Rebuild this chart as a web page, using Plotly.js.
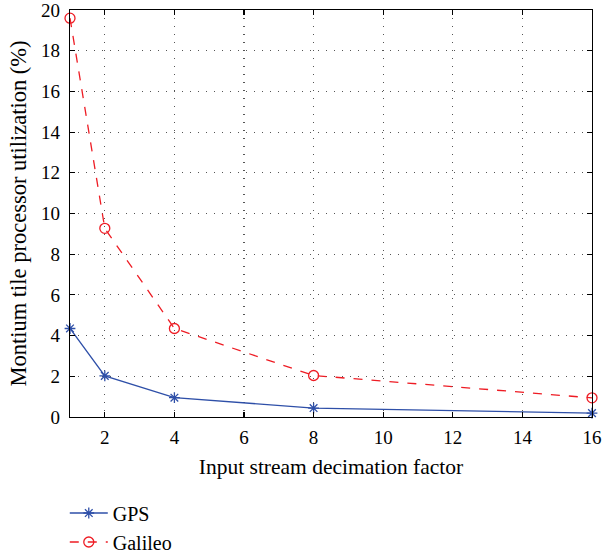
<!DOCTYPE html>
<html>
<head>
<meta charset="utf-8">
<script src="https://cdn.plot.ly/plotly-3.0.1.min.js"></script>
<style>body{margin:0;padding:0;background:#fff}</style>
</head>
<body>
<div id="chart" style="width:602px;height:554px"></div>
<script>
const decimation = [1, 2, 4, 8, 16];
const gps = [4.35, 2.02, 0.95, 0.44, 0.19];
const galileo = [19.6, 9.27, 4.35, 2.04, 0.94];
const xTicks = [2, 4, 6, 8, 10, 12, 14, 16];
const yTicks = [0, 2, 4, 6, 8, 10, 12, 14, 16, 18, 20];

const fam = "Liberation Serif, DejaVu Serif, serif";
const tickFont = {family: fam, size: 19, color: "#000"};

const traces = [
  {x: decimation, y: gps, name: "GPS", mode: "lines+markers",
   line: {color: "#2e4fa8", width: 1.3},
   marker: {symbol: "asterisk-open", size: 9, color: "#2e4fa8", line: {color: "#2e4fa8", width: 1.3}},
   cliponaxis: false},
  {x: decimation, y: galileo, name: "Galileo", mode: "lines+markers",
   line: {color: "#ee1c24", width: 1.3, dash: "dash"},
   marker: {symbol: "circle-open", size: 10, color: "#ee1c24", line: {color: "#ee1c24", width: 1.3}},
   cliponaxis: false}
];

const axisCommon = {
  showline: true, mirror: "ticks", linecolor: "#000", linewidth: 1.3,
  ticks: "inside", ticklen: 5, tickcolor: "#000", tickwidth: 1.2,
  showgrid: true, gridcolor: "#555", griddash: "1px,7px", gridwidth: 1.2,
  zeroline: false, tickfont: tickFont, ticklabeloverflow: "allow", automargin: true
};

const layout = {
  width: 602, height: 554,
  margin: {l: 70, r: 10, t: 10, b: 137, autoexpand: false},
  paper_bgcolor: "#fff", plot_bgcolor: "#fff",
  font: tickFont,
  showlegend: true,
  legend: {x: -0.01, y: -0.188, xanchor: "left", yanchor: "top",
           orientation: "v", font: {family: fam, size: 20, color: "#000"},
           bgcolor: "rgba(0,0,0,0)", tracegroupgap: 0, itemwidth: 38},
  xaxis: Object.assign({}, axisCommon, {
    range: [1, 16], tickvals: xTicks, ticktext: xTicks.map(String), ticklabelstandoff: 3,
    title: {text: "Input stream decimation factor", font: {family: fam, size: 21.5, color: "#000"}, standoff: 12}
  }),
  yaxis: Object.assign({}, axisCommon, {
    range: [0, 20], tickvals: yTicks, ticktext: yTicks.map(String), ticklabelstandoff: 5,
    title: {text: "Montium tile processor utilization (%)", font: {family: fam, size: 22.5, color: "#000"}, standoff: 8}
  })
};

Plotly.newPlot("chart", traces, layout, {displayModeBar: false, staticPlot: true});
</script>
</body>
</html>
